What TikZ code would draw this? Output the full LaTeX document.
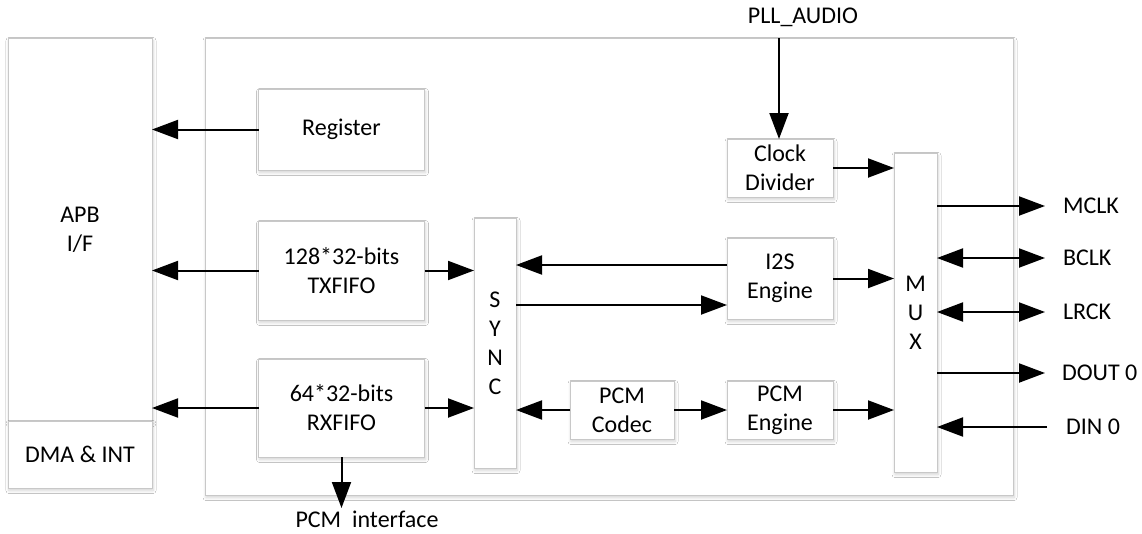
\documentclass[tikz,border=0pt]{standalone}
\usepackage{fontspec}
\setmainfont{Carlito}
\usetikzlibrary{arrows.meta,shadows.blur}
\definecolor{boxline}{HTML}{C8C8C8}
\begin{document}
\begin{tikzpicture}[x=1pt,y=-1pt,
  every node/.style={font=\fontsize{24}{29}\selectfont, inner sep=0pt, outer sep=0pt},
  blk/.style={draw=boxline, line width=1pt, fill=white, align=center,
    blur shadow={shadow xshift=1pt, shadow yshift=-2.5pt, shadow blur radius=3pt, shadow blur steps=6, shadow opacity=18}},
  arr/.style={line width=2pt, -{Triangle[length=26pt,width=19pt]}},
  darr/.style={line width=2pt, {Triangle[length=26pt,width=19pt]}-{Triangle[length=26pt,width=19pt]}},
  lbl/.style={anchor=west}]
\useasboundingbox (0,0) rectangle (1142,533);
\fill[white] (0,0) rectangle (1142,533);
% outer blocks
\node[blk, minimum width=144pt, minimum height=383pt] (apb) at (80,229.5) {APB\\I/F};
\node[blk, minimum width=144pt, minimum height=67pt] (dma) at (80,454.5) {DMA \& INT};
\node[blk, minimum width=808pt, minimum height=457pt] (main) at (609,266.5) {};
% inner blocks
\node[blk, minimum width=166pt, minimum height=81pt] (reg) at (341.5,129.5) {Register};
\node[blk, minimum width=166pt, minimum height=99pt] (tx) at (341.5,270.5) {128*32-bits\\TXFIFO};
\node[blk, minimum width=166pt, minimum height=98pt] (rx) at (341.5,408) {64*32-bits\\RXFIFO};
\node[blk, minimum width=42pt, minimum height=250pt] (sync) at (495,343) {S\\Y\\N\\C};
\node[blk, minimum width=104pt, minimum height=58pt] (codec) at (622,410) {PCM\\Codec};
\node[blk, minimum width=106pt, minimum height=58pt] (cd) at (780,168) {Clock\\Divider};
\node[blk, minimum width=106pt, minimum height=81pt] (i2s) at (780,278.5) {I2S\\Engine};
\node[blk, minimum width=106pt, minimum height=58pt] (pcme) at (780,410) {PCM\\Engine};
\node[blk, minimum width=43pt, minimum height=319pt] (mux) at (915.5,312.5) {M\\U\\X};
% labels
\node (pll) at (803,17) {PLL\_AUDIO};
\node (pcmif) at (367,519) {PCM\ \ interface};
\node[lbl] (mclk) at (1063,206) {MCLK};
\node[lbl] (bclk) at (1063,258) {BCLK};
\node[lbl] (lrck) at (1063,312) {LRCK};
\node[lbl] (dout) at (1062,373) {DOUT 0};
\node[lbl] (din) at (1066,427) {DIN 0};
\coordinate (mclkE) at (1045,206);
\coordinate (bclkE) at (1045,258);
\coordinate (lrckE) at (1045,312);
\coordinate (doutE) at (1045,373);
\coordinate (dinE) at (1047,427);
\coordinate (pllS) at (779,38);
\coordinate (pcmifE) at (341.5,508);
% connectors
\draw[arr] (reg.west) -- (apb.east |- reg.west);
\draw[arr] (tx.west) -- (apb.east |- tx.west);
\draw[arr] (rx.west) -- (apb.east |- rx.west);
\draw[arr] (tx.east) -- (sync.west |- tx.east);
\draw[arr] (rx.east) -- (sync.west |- rx.east);
\draw[arr] (rx.south) -- (pcmifE);
\draw[arr] (i2s.west |- 0,265) -- (sync.east |- 0,265);
\draw[arr] (sync.east |- 0,305) -- (i2s.west |- 0,305);
\draw[arr] (codec.west) -- (sync.east |- codec.west);
\draw[arr] (codec.east) -- (pcme.west);
\draw[arr] (pcme.east) -- (mux.west |- pcme.east);
\draw[arr] (i2s.east) -- (mux.west |- i2s.east);
\draw[arr] (cd.east) -- (mux.west |- cd.east);
\draw[arr] (pllS) -- (pllS |- cd.north);
\draw[arr] (mux.east |- mclkE) -- (mclkE);
\draw[darr] (mux.east |- bclkE) -- (bclkE);
\draw[darr] (mux.east |- lrckE) -- (lrckE);
\draw[arr] (mux.east |- doutE) -- (doutE);
\draw[arr] (dinE) -- (mux.east |- dinE);
\end{tikzpicture}
\end{document}
